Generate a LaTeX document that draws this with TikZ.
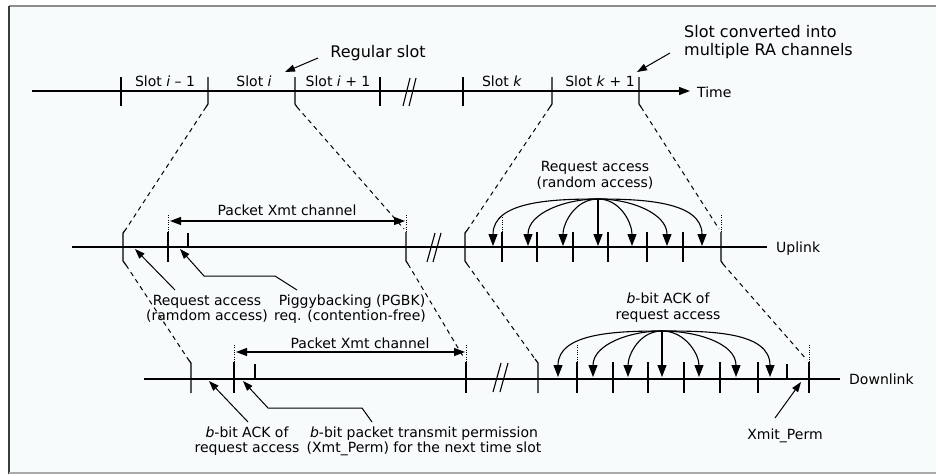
\documentclass[tikz,border=0pt]{standalone}
\usepackage{fontspec}
\setmainfont{DejaVu Sans}
\usetikzlibrary{arrows.meta}
\definecolor{bgc}{RGB}{247,251,252}
\definecolor{topc}{RGB}{140,140,140}
\definecolor{leftc}{RGB}{60,60,60}
\definecolor{botc}{RGB}{170,170,170}
\begin{document}
\begin{tikzpicture}[x=1pt,y=-1pt,
  axis/.style={line width=1.2pt},
  tk/.style={line width=1.2pt},
  dsh/.style={line width=1pt, dash pattern=on 4.5pt off 4pt},
  dtt/.style={line width=0.8pt, dash pattern=on 1pt off 1.3pt},
  brk/.style={line width=1.1pt},
  ra/.style={line width=1.1pt, -{Triangle[length=12pt,width=9pt]}},
  ann/.style={line width=1pt, -{Triangle[length=10pt,width=7pt]}},
  dbl/.style={line width=1.1pt, {Triangle[length=11pt,width=8pt]}-{Triangle[length=11pt,width=8pt]}},
  t14/.style={font=\fontsize{14}{16}\selectfont, inner sep=0pt, anchor=base},
  t16/.style={font=\fontsize{16}{18}\selectfont, inner sep=0pt, anchor=base}]
\useasboundingbox (0,0) rectangle (936,474);
% frame
\fill[bgc] (9,6) rectangle (936,474);
\draw[topc, line width=1.5pt] (9,6) -- (936,6);
\draw[leftc, line width=1.2pt] (9,6) -- (9,474);
\draw[botc, line width=1.5pt] (9,473) -- (936,473);

% ---------- top time line ----------
\coordinate (t0) at (32,91);
\coordinate (t1) at (690,91);
\draw[axis, -{Triangle[length=11pt,width=8pt]}] (t0) -- (t1);
\foreach \x in {121,380,463} \draw[tk] (\x,77) -- (\x,106);
\draw[tk] (208,77) -- (208,104) -- (206,107);
\draw[tk] (295,77) -- (295,104) -- (297,107);
\draw[tk] (552,77) -- (552,104) -- (550,107);
\draw[tk] (639,77) -- (639,104) -- (641,107);
\draw[brk] (403,106) -- (410,78) (409,106) -- (416,78);

\node[t14] (s1) at (165,86) {Slot \textit{i} – 1};
\node[t14] (s2) at (254,86) {Slot \textit{i}};
\node[t14] (s3) at (338,86) {Slot \textit{i} + 1};
\node[t14] (s4) at (502,86) {Slot \textit{k}};
\node[t14] (s5) at (600,86) {Slot \textit{k} + 1};
\node[t14, anchor=base west] (time) at (697,97) {Time};

\node[t16] (reg) at (378,57) {Regular slot};
\coordinate (regA) at (318,58);
\coordinate (regB) at (285,72);
\draw[ann] (regA) -- (regB);
\node[t16, anchor=base west] (conv1) at (684,37) {Slot converted into};
\node[t16, anchor=base west] (conv2) at (684,55) {multiple RA channels};
\coordinate (convA) at (670,53);
\coordinate (convB) at (637,72);
\draw[ann] (convA) -- (convB);

% ---------- dashed projections ----------
\draw[dsh] (206,107) -- (126,229);
\draw[dsh] (297,107) -- (404,229);
\draw[dsh] (550,107) -- (468,229);
\draw[dsh] (641,107) -- (719,229);
\draw[dsh] (126,265) -- (188,359);
\draw[dsh] (408,264) -- (464,358);
\draw[dsh] (467,264) -- (535,359);
\draw[dsh] (723,264) -- (807,360);

% ---------- uplink ----------
\draw[axis] (72,247) -- (767,247);
\draw[tk] (126,229) -- (123,233) -- (123,261) -- (126,265);
\draw[tk] (468,229) -- (465,233) -- (465,261) -- (467,264);
\draw[tk] (406,232) -- (406,261) -- (408,264);
\draw[tk] (721,232) -- (721,261) -- (723,264);
\foreach \x in {168,406,502,721} \draw[dtt] (\x,215) -- (\x,232);
\foreach \x in {168,502,537,573,608,647,683} \draw[tk] (\x,232) -- (\x,262);
\draw[tk] (188,233) -- (188,247);
\draw[brk] (427,262) -- (435,233) (433,262) -- (441,233);

\coordinate (upL) at (170,221);
\coordinate (upR) at (405,221);
\draw[dbl] (upL) -- (upR);
\node[t14] (upx) at (287,215) {Packet Xmt channel};

\node[t14] (ra1) at (595,171) {Request access};
\node[t14] (ra2) at (595,187) {(random access)};
\coordinate (uapex) at (598,199);
\foreach \x in {493,528,563} \draw[ra] (uapex) to[out=180,in=90] (\x,246);
\foreach \x in {632,667,702} \draw[ra] (uapex) to[out=0,in=90] (\x,246);
\draw[ra] (uapex) -- (598,246);
\node[t14, anchor=base west] (upl) at (776,252) {Uplink};

\node[t14] (lr1) at (207,305) {Request access};
\node[t14] (lr2) at (207,320) {(ramdom access)};
\coordinate (lrA) at (175,290);
\coordinate (lrB) at (135,249);
\draw[ann] (lrA) -- (lrB);
\node[t14] (pg1) at (352,305) {Piggybacking (PGBK)};
\node[t14] (pg2) at (350,320) {req. (contention-free)};
\coordinate (pgA) at (297,290);
\coordinate (pgB) at (180,249);
\draw[ann] (pgA) -- (275,276) -- (204,276) -- (pgB);

\node[t14] (ak1) at (668,303) {\textit{b}-bit ACK of};
\node[t14] (ak2) at (668,319) {request access};

% ---------- downlink ----------
\draw[axis] (144,379) -- (840,379);
\draw[tk] (188,359) -- (191,363) -- (191,393);
\draw[tk] (535,359) -- (538,363) -- (538,393);
\foreach \x in {234,466,577,809} \draw[dtt] (\x,345) -- (\x,362);
\foreach \x in {234,466,577,613,648,684,720,758,809} \draw[tk] (\x,362) -- (\x,393);
\draw[tk] (255,364) -- (255,379);
\draw[tk] (787,364) -- (787,379);
\draw[brk] (493,392) -- (501,363) (500,392) -- (508,363);

\coordinate (dnL) at (236,352);
\coordinate (dnR) at (465,352);
\draw[dbl] (dnL) -- (dnR);
\node[t14] (dnx) at (360,348) {Packet Xmt channel};

\coordinate (dapex) at (662,331);
\foreach \x in {558,593,628} \draw[ra] (dapex) to[out=180,in=90] (\x,377);
\foreach \x in {699,736,770} \draw[ra] (dapex) to[out=0,in=90] (\x,377);
\draw[ra] (dapex) -- (662,377);
\node[t14, anchor=base west] (dnl) at (849,384) {Downlink};

\node[t14] (da1) at (247,437) {\textit{b}-bit ACK of};
\node[t14] (da2) at (247,452) {request access};
\coordinate (daA) at (248,422);
\coordinate (daB) at (209,381);
\draw[ann] (daA) -- (daB);
\node[t14] (pm1) at (424,437) {\textit{b}-bit packet transmit permission};
\node[t14] (pm2) at (424,452) {(Xmt\_Perm) for the next time slot};
\coordinate (pmA) at (372,422);
\coordinate (pmB) at (243,381);
\draw[ann] (pmA) -- (362,408) -- (268,408) -- (pmB);

\node[t14] (xp) at (785,439) {Xmit\_Perm};
\coordinate (xpA) at (775,418);
\coordinate (xpB) at (801,382);
\draw[ann] (xpA) -- (xpB);
\end{tikzpicture}
\end{document}
